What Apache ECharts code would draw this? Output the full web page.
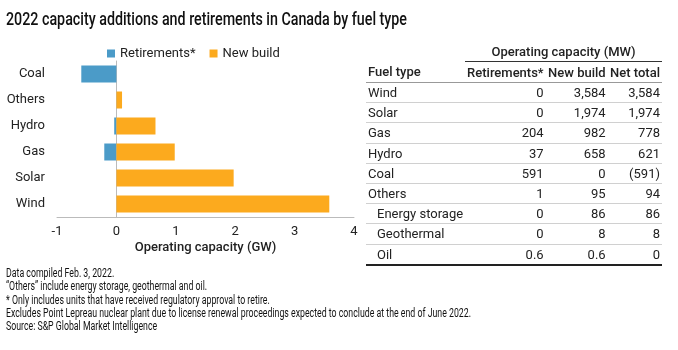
<!DOCTYPE html>
<html>
<head>
<meta charset="utf-8">
<script src="https://cdn.jsdelivr.net/npm/echarts@6/dist/echarts.min.js"></script>
<style>
    body { margin: 0; background: #fff; }
    #wrap { position: relative; width: 678px; height: 350px; overflow: hidden; }
    #chart { position: absolute; left: 0; top: 0; width: 678px; height: 350px; }
    #title { position: absolute; left: 6px; top: 8px; font-family: Roboto, sans-serif; font-size: 18px; font-weight: 500;
        color: #111; white-space: nowrap; transform-origin: 0 0; }
    #tbl { position: absolute; left: 366px; top: 42px; width: 296px; border-collapse: collapse;
        font-family: Roboto, "Noto Sans", sans-serif; font-size: 13px; color: #222; }
    #tbl td, #tbl th { padding: 0 2px; height: 19.2px; line-height: 19px; border-bottom: 1px solid #d0d0d0; white-space: nowrap; }
    #tbl th { font-weight: 500; }
    #tbl .grp th { border-bottom: 1px solid #333; height: 17px; }
    #tbl .grp th.blank { border-bottom: none; }
    #tbl .hdr th { border-bottom: 1px solid #999; height: 20px; }
    #tbl td.num, #tbl th.num { text-align: right; }
    #tbl td.sub { padding-left: 11px; }
    #tbl tr.last td { border-bottom: 2px solid #222; }
    #notes { position: absolute; left: 6px; top: 267px; font-family: Roboto, sans-serif;
        font-size: 12px; line-height: 13.3px; color: #111; white-space: nowrap; transform-origin: 0 0; }
</style>
</head>
<body>
<div id="wrap">
    <div id="chart"></div>
    <div id="title">2022 capacity additions and retirements in Canada by fuel type</div>
    <table id="tbl"></table>
    <div id="notes"></div>
</div>
<script>
// chart data, bottom to top (GW)
const categories = ["Wind", "Solar", "Gas", "Hydro", "Others", "Coal"]
const retirements = [0, 0, -0.204, -0.037, -0.001, -0.591]
const newBuild = [3.584, 1.974, 0.982, 0.658, 0.095, 0]

// table data (MW)
const tableRows = ["Wind", "Solar", "Gas", "Hydro", "Coal", "Others", "Energy storage", "Geothermal", "Oil"]
const tableSub = [false, false, false, false, false, false, true, true, true]
const tableRetire = ["0", "0", "204", "37", "591", "1", "0", "0", "0.6"]
const tableNew = ["3,584", "1,974", "982", "658", "0", "95", "86", "8", "0.6"]
const tableNet = ["3,584", "1,974", "778", "621", "(591)", "94", "86", "8", "0"]

const notes = [
    "Data compiled Feb. 3, 2022.",
    "\u201cOthers\u201d  include energy storage, geothermal and oil.",
    "* Only includes units that have received regulatory approval to retire.",
    "Excludes Point Lepreau nuclear plant due to license renewal proceedings expected to conclude at the end of June 2022.",
    "Source: S&P Global Market Intelligence",
]

const BLUE = "#4b9bc8"
const ORANGE = "#fcaa1e"
const FONT = "Roboto, 'Noto Sans', sans-serif"

// table
let html = '<tr class="grp"><th class="blank"></th><th colspan="3" style="text-align:center">Operating capacity (MW)</th></tr>'
html += '<tr class="hdr"><th style="text-align:left;width:94px">Fuel type</th><th class="num" style="width:75px">Retirements*</th>'
    + '<th class="num" style="width:58px">New build</th><th class="num">Net total</th></tr>'
tableRows.forEach((name, i) => {
    let cls = i === tableRows.length - 1 ? ' class="last"' : ""
    html += "<tr" + cls + '><td class="' + (tableSub[i] ? "sub" : "") + '">' + name + "</td>"
        + '<td class="num">' + tableRetire[i] + '</td><td class="num">' + tableNew[i]
        + '</td><td class="num">' + tableNet[i] + "</td></tr>"
})
document.getElementById("tbl").innerHTML = html
document.getElementById("notes").innerHTML = notes.map(t => t.replace(/&/g, "&amp;")).join("<br>")

// the original uses a condensed face; squeeze Roboto to the same widths
function squeeze(id, targetWidth) {
    let el = document.getElementById(id)
    let w = el.getBoundingClientRect().width
    el.style.transform = "scaleX(" + (targetWidth / w) + ")"
}
squeeze("title", 401)
squeeze("notes", 465)

const chart = echarts.init(document.getElementById("chart"))

let option = {
    animation: false,
    legend: {
        data: ["Retirements*", "New build"],
        left: 102,
        top: 42,
        itemWidth: 8,
        itemHeight: 8,
        itemGap: 14,
        icon: "rect",
        textStyle: { fontFamily: FONT, fontSize: 13, color: "#222" },
    },
    grid: {
        left: 57,
        right: 324,
        top: 61,
        bottom: 133,
    },
    xAxis: {
        type: "value",
        min: -1,
        max: 4,
        interval: 1,
        splitLine: { show: false },
        axisTick: { show: false },
        axisLine: { show: true, lineStyle: { color: "#bbb" } },
        axisLabel: { fontFamily: FONT, fontSize: 13, color: "#222", margin: 8 },
        name: "Operating capacity (GW)",
        nameLocation: "middle",
        nameGap: 24,
        nameTextStyle: { fontFamily: FONT, fontSize: 13, fontWeight: 500, color: "#222" },
    },
    yAxis: {
        type: "category",
        data: categories,
        axisTick: { show: false },
        axisLine: { show: true, onZero: true, lineStyle: { color: "#bbb" } },
        axisLabel: { fontFamily: FONT, fontSize: 13, color: "#222", margin: 12 },
    },
    series: [
        {
            name: "Retirements*",
            type: "bar",
            data: retirements,
            barWidth: 17,
            barGap: "-100%",
            itemStyle: { color: BLUE },
        },
        {
            name: "New build",
            type: "bar",
            data: newBuild,
            barWidth: 17,
            itemStyle: { color: ORANGE },
        },
    ],
}

chart.setOption(option)
</script>
</body>
</html>
